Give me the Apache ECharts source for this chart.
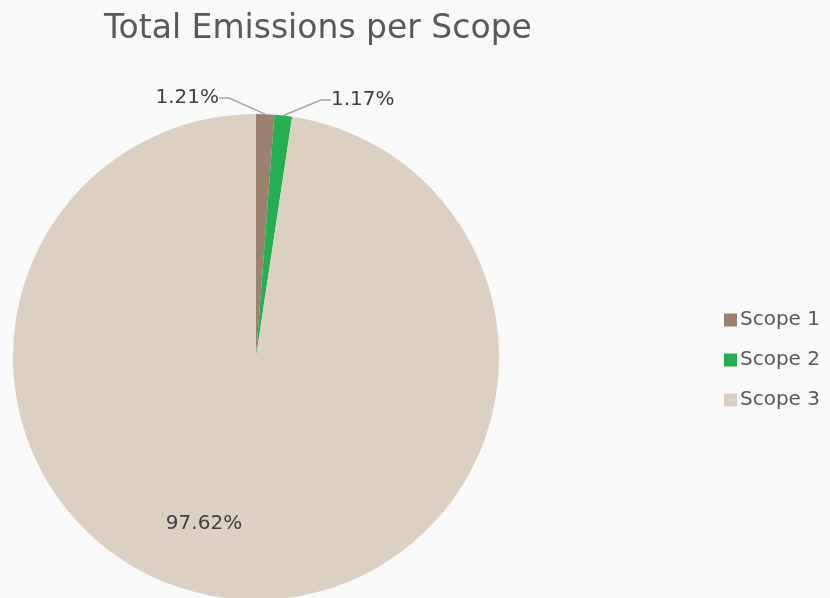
<!DOCTYPE html>
<html>
<head>
<meta charset="utf-8">
<script src="https://cdn.jsdelivr.net/npm/echarts@6/dist/echarts.min.js"></script>
<style>
  html, body { margin: 0; padding: 0; background: #f9f9f9; }
  #chart { width: 830px; height: 598px; }
</style>
</head>
<body>
<div id="chart"></div>
<script>
// Share of total emissions by scope (percent)
const scopes = ['Scope 1', 'Scope 2', 'Scope 3'];
const shares = [1.21, 1.17, 97.62];
const colors = ['#9c8170', '#27ae53', '#dbd0c2'];

const chart = echarts.init(document.getElementById('chart'));
const fontFamily = '"DejaVu Sans", sans-serif';

chart.setOption({
  backgroundColor: '#f9f9f9',
  animation: false,
  title: {
    text: 'Total Emissions per Scope',
    left: 99,
    top: 8,
    textStyle: { fontFamily, fontSize: 33, fontWeight: 'normal', color: '#595959' }
  },
  legend: {
    orient: 'vertical',
    left: 719,
    top: 305,
    itemWidth: 13,
    itemHeight: 13,
    itemGap: 20,
    icon: 'rect',
    textStyle: { fontFamily, fontSize: 20, color: '#595959', padding: [0, 0, 0, -2] },
    data: scopes
  },
  series: [{
    type: 'pie',
    center: [256, 357],
    radius: 243,
    startAngle: 90,
    clockwise: true,
    color: colors,
    label: {
      show: true,
      position: 'outside',
      fontFamily,
      fontSize: 20,
      color: '#404040',
      formatter: p => p.value.toFixed(2) + '%'
    },
    labelLine: {
      show: true,
      length: 10,
      length2: 10,
      lineStyle: { color: '#a6a6a6', width: 1.5 }
    },
    labelLayout: function (params) {
      if (params.dataIndex === 0) return { x: 219, y: 98, align: 'right', verticalAlign: 'middle' };
      if (params.dataIndex === 1) return { x: 331, y: 100, align: 'left', verticalAlign: 'middle' };
      return { x: 204, y: 524, align: 'center', verticalAlign: 'middle' };
    },
    data: scopes.map((name, i) => ({
      name,
      value: shares[i],
      label: i === 2 ? { position: 'inside', color: '#404040' } : undefined,
      labelLine: i === 2 ? { show: false } : undefined
    }))
  }]
});
</script>
</body>
</html>
